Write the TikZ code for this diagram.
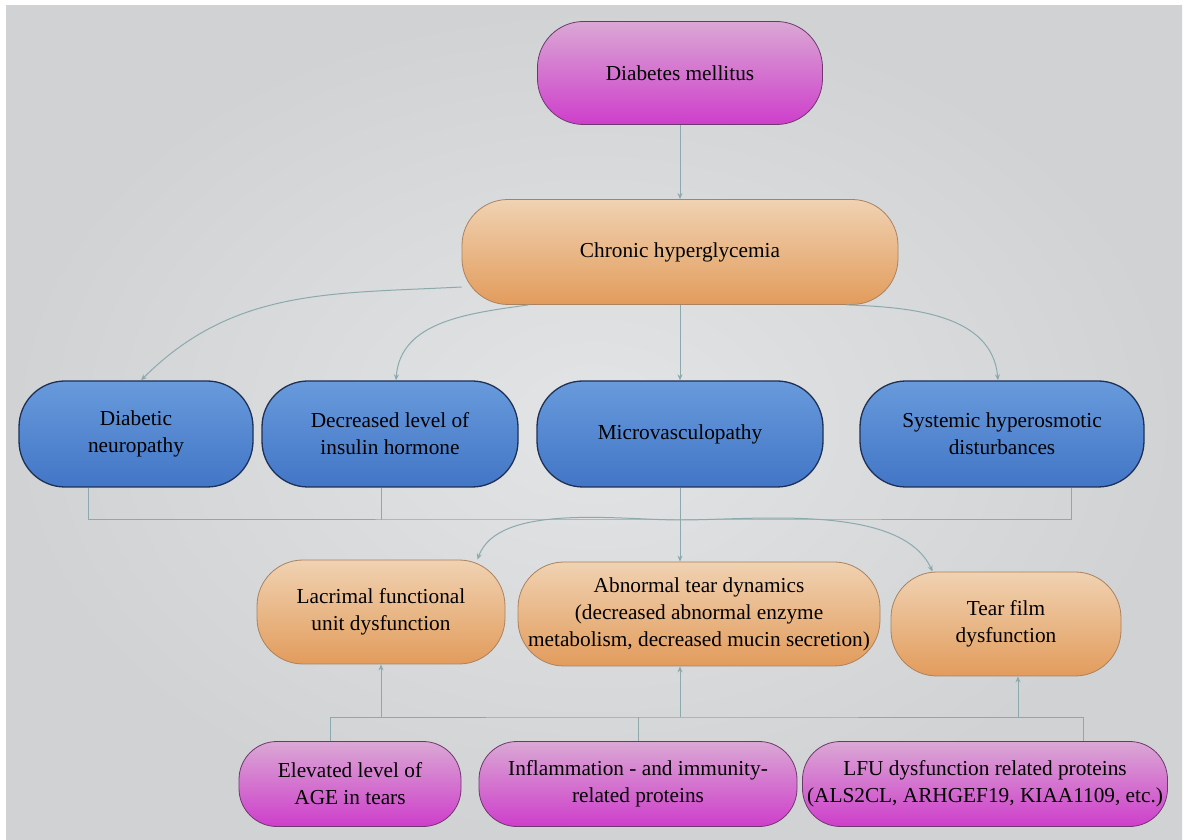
\documentclass[tikz,border=0pt]{standalone}
\usepackage{fontspec}
\setmainfont{Liberation Serif}
\usetikzlibrary{calc, shapes, positioning, arrows.meta}
\definecolor{linkcol}{RGB}{140,170,172}
\definecolor{bluedraw}{RGB}{30,48,85}
\definecolor{orangedraw}{RGB}{170,130,95}
\definecolor{pinkdraw}{RGB}{110,55,110}
\tikzset{
  box/.style={rounded corners=46pt, align=center, inner sep=2pt,
    font=\fontsize{21.3}{27}\selectfont, text=black, line width=0.8pt},
  pinkbox/.style={box, draw=pinkdraw, top color={rgb,255:red,218;green,168;blue,212}, bottom color={rgb,255:red,206;green,62;blue,203}},
  orangebox/.style={box, draw=orangedraw, top color={rgb,255:red,240;green,210;blue,178}, bottom color={rgb,255:red,226;green,156;blue,92}},
  bluebox/.style={box, draw=bluedraw, line width=1.3pt, top color={rgb,255:red,104;green,154;blue,220}, bottom color={rgb,255:red,66;green,118;blue,198}},
  link/.style={draw=linkcol, line width=1pt},
  >={Stealth[length=6pt,width=5pt]}
}
\begin{document}
\begin{tikzpicture}[x=1pt, y=1pt]
\useasboundingbox (0,0) rectangle (1195,839);
\fill[white] (0,0) rectangle (1195,839);
\shade[inner color={rgb,255:red,226;green,228;blue,230}, outer color={rgb,255:red,208;green,210;blue,212}] (6,0) rectangle (1182,833);

% top
\node[pinkbox, minimum width=285pt, minimum height=103pt] (dm) at (680,766) {Diabetes mellitus};
\node[orangebox, minimum width=436pt, minimum height=105pt] (ch) at (680,587) {Chronic hyperglycemia};

% blue row
\node[bluebox, minimum width=234pt, minimum height=106pt] (dn) at (136,405) {Diabetic\\neuropathy};
\node[bluebox, minimum width=256pt, minimum height=106pt] (dl) at (390,405) {Decreased level of\\insulin hormone};
\node[bluebox, minimum width=286pt, minimum height=106pt] (mv) at (680,405) {Microvasculopathy};
\node[bluebox, minimum width=284pt, minimum height=106pt] (sh) at (1002,405) {Systemic hyperosmotic\\disturbances};

% orange row
\node[orangebox, minimum width=248pt, minimum height=104pt] (lf) at (381,227) {Lacrimal functional\\unit dysfunction};
\node[orangebox, minimum width=362pt, minimum height=104pt] (at) at (699,225) {Abnormal tear dynamics\\(decreased abnormal enzyme\\metabolism, decreased mucin secretion)};
\node[orangebox, minimum width=230pt, minimum height=104pt] (tf) at (1006,215) {Tear film\\dysfunction};

% bottom row
\node[pinkbox, rounded corners=38pt, minimum width=222pt, minimum height=85pt] (el) at (350,55) {Elevated level of\\AGE in tears};
\node[pinkbox, rounded corners=38pt, minimum width=318pt, minimum height=85pt] (im) at (638,55) {Inflammation - and immunity-\\related proteins};
\node[pinkbox, rounded corners=38pt, minimum width=365pt, minimum height=85pt] (lp) at (985,55) {LFU dysfunction related proteins\\(ALS2CL, ARHGEF19, KIAA1109, etc.)};

\coordinate (hub) at (680,319);
\coordinate (hubb) at (638,122);

% connectors
\draw[link, ->] (dm) -- (ch);
\draw[link, ->] ([yshift=-35pt]ch.west) to[out=183, in=45] ([xshift=5pt]dn.north);
\draw[link, ->] ([xshift=67pt]ch.south west) to[out=188, in=86] ([xshift=6pt]dl.north);
\draw[link, ->] (ch.south) -- (mv.north);
\draw[link, ->] ([xshift=-52pt]ch.south east) to[out=-2, in=95] ([xshift=-4pt]sh.north);

\draw[link] ([xshift=-48pt]dn.south) |- (hub) -| ([xshift=69pt]sh.south);
\draw[link] ([xshift=-9pt]dl.south) -- ([xshift=-9pt]dl.south |- hub);
\draw[link, ->] (mv.south) -- (mv.south |- at.north);
\draw[link, ->] (hub) to[out=180, in=70, looseness=0.75] ([xshift=-28pt]lf.north east);
\draw[link, ->] (hub) to[out=0, in=115, looseness=0.75] ([xshift=42pt]tf.north west);

\draw[link] ([xshift=-20pt]el.north) |- (hubb) -| ([xshift=98pt]lp.north);
\draw[link] (im.north) -- (hubb);
\draw[link, ->] (lf.south |- hubb) -- (lf.south);
\draw[link, ->] ([xshift=-19pt]at.south |- hubb) -- ([xshift=-19pt]at.south);
\draw[link, ->] ([xshift=12pt]tf.south |- hubb) -- ([xshift=12pt]tf.south);
\end{tikzpicture}
\end{document}
